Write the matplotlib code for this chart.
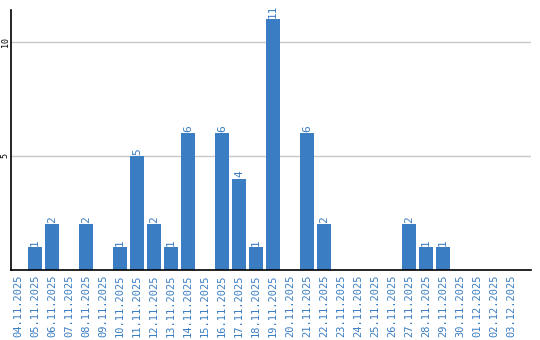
import matplotlib
matplotlib.use("Agg")
import matplotlib.pyplot as plt

dates = ["04.11.2025", "05.11.2025", "06.11.2025", "07.11.2025", "08.11.2025",
         "09.11.2025", "10.11.2025", "11.11.2025", "12.11.2025", "13.11.2025",
         "14.11.2025", "15.11.2025", "16.11.2025", "17.11.2025", "18.11.2025",
         "19.11.2025", "20.11.2025", "21.11.2025", "22.11.2025", "23.11.2025",
         "24.11.2025", "25.11.2025", "26.11.2025", "27.11.2025", "28.11.2025",
         "29.11.2025", "30.11.2025", "01.12.2025", "02.12.2025", "03.12.2025"]
counts = [0, 1, 2, 0, 2, 0, 1, 5, 2, 1, 6, 0, 6, 4, 1, 11, 0, 6, 2, 0,
          0, 0, 0, 2, 1, 1, 0, 0, 0, 0]

blue = "#3a7dc2"
font = "DejaVu Sans Mono"

fig = plt.figure(figsize=(5.4, 3.4), dpi=100)
ax = fig.add_axes([11 / 540, 70 / 340, 520 / 540, 260 / 340])

x = list(range(len(dates)))
ax.bar(x, counts, width=0.82, color=blue, zorder=2)
for xi, v in zip(x, counts):
    if v > 0:
        ax.text(xi, v + 0.06, str(v), rotation=90, ha="center", va="bottom",
                color=blue, fontsize=8, family=font)

ax.set_xlim(-0.41, 30.18)
ax.set_ylim(0, 11.4)
ax.set_yticks([5, 10])
ax.set_yticklabels(["5", "10"], rotation=90, va="center", fontsize=6,
                   family=font)
ax.set_xticks(x)
ax.set_xticklabels(dates, rotation=90, color=blue, fontsize=7.5, family=font)
ax.tick_params(axis="x", length=0, pad=3)
ax.tick_params(axis="y", length=0, pad=1)
ax.grid(axis="y", color="#c8c8c8", linewidth=1, zorder=0)

for s in ["top", "right"]:
    ax.spines[s].set_visible(False)
ax.spines["left"].set_linewidth(1.2)
ax.spines["bottom"].set_linewidth(1.2)

fig.savefig("out.png", dpi=100)
